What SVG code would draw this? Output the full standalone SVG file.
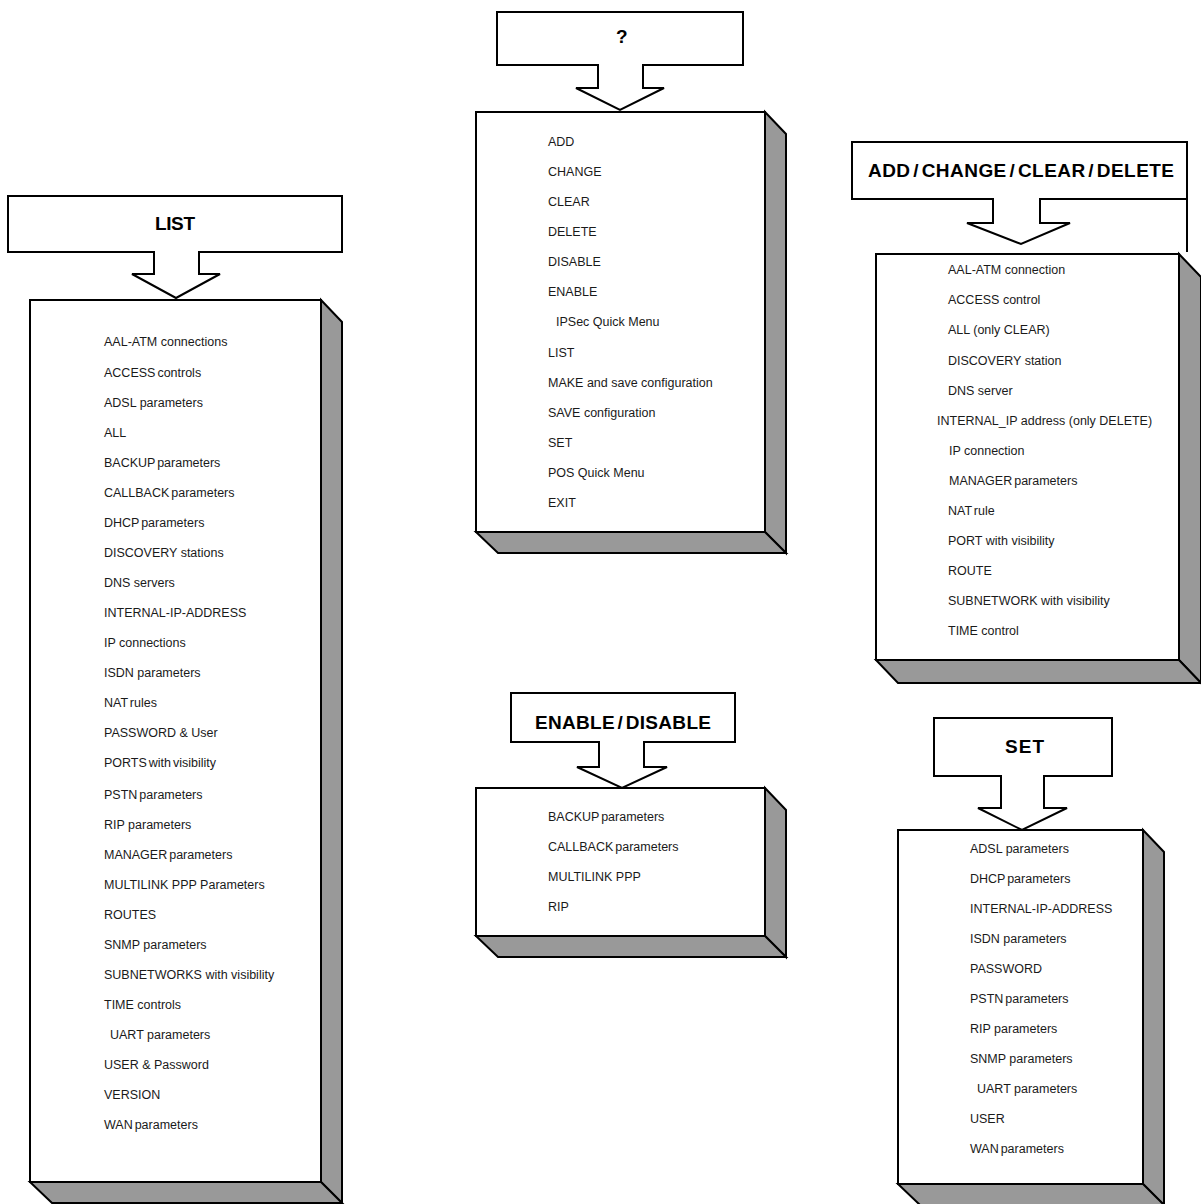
<svg xmlns="http://www.w3.org/2000/svg" width="1201" height="1204" viewBox="0 0 1201 1204">
<style>
.call{fill:#fff;stroke:#000;stroke-width:2;stroke-linejoin:miter}
.front{fill:#fff;stroke:#000;stroke-width:2}
.side{fill:#999;stroke:#000;stroke-width:2;stroke-linejoin:miter}
.h{font-family:"Liberation Sans",Arial,sans-serif;font-weight:bold;font-size:19px;fill:#000;letter-spacing:-1px;word-spacing:-3px}
.t{font-family:"Liberation Sans",Arial,sans-serif;font-size:12.5px;fill:#1a1a1a}
.n{word-spacing:-1.5px}
</style>
<rect width="1201" height="1204" fill="#fff"/>

<g id="list">
<path class="call" d="M8,196 H342 V252 H199 V274 H220 L176,298 L132,274 H154 V252 H8 Z"/>
<text class="h" x="155" y="230" textLength="39" lengthAdjust="spacing">LIST</text>
<rect class="front" x="30" y="300" width="291" height="882"/>
<polygon class="side" points="321,300 342,322 342,1203 321,1182"/>
<polygon class="side" points="30,1182 321,1182 342,1203 52,1203"/>
<text class="t" x="104" y="346">AAL-ATM connections</text>
<text class="t n" x="104" y="377">ACCESS controls</text>
<text class="t" x="104" y="407">ADSL parameters</text>
<text class="t" x="104" y="437">ALL</text>
<text class="t n" x="104" y="467">BACKUP parameters</text>
<text class="t n" x="104" y="497">CALLBACK parameters</text>
<text class="t n" x="104" y="527">DHCP parameters</text>
<text class="t" x="104" y="557">DISCOVERY stations</text>
<text class="t" x="104" y="587">DNS servers</text>
<text class="t" x="104" y="617">INTERNAL-IP-ADDRESS</text>
<text class="t" x="104" y="647">IP connections</text>
<text class="t" x="104" y="677">ISDN parameters</text>
<text class="t n" x="104" y="707">NAT rules</text>
<text class="t" x="104" y="737">PASSWORD &amp; User</text>
<text class="t n" x="104" y="767">PORTS with visibility</text>
<text class="t n" x="104" y="799">PSTN parameters</text>
<text class="t" x="104" y="829">RIP parameters</text>
<text class="t n" x="104" y="859">MANAGER parameters</text>
<text class="t" x="104" y="889">MULTILINK PPP Parameters</text>
<text class="t" x="104" y="919">ROUTES</text>
<text class="t" x="104" y="949">SNMP parameters</text>
<text class="t" x="104" y="979">SUBNETWORKS with visibility</text>
<text class="t" x="104" y="1009">TIME controls</text>
<text class="t" x="110" y="1039">UART parameters</text>
<text class="t" x="104" y="1069">USER &amp; Password</text>
<text class="t" x="104" y="1099">VERSION</text>
<text class="t n" x="104" y="1129">WAN parameters</text>
</g>

<g id="help">
<path class="call" d="M497,12 H743 V65 H643 V88 H664 L620,110 L576,88 H598 V65 H497 Z"/>
<text class="h" x="616" y="43">?</text>
<rect class="front" x="476" y="112" width="289" height="420"/>
<polygon class="side" points="765,112 786,134 786,553 765,532"/>
<polygon class="side" points="476,532 765,532 786,553 498,553"/>
<text class="t" x="548" y="146">ADD</text>
<text class="t" x="548" y="176">CHANGE</text>
<text class="t" x="548" y="206">CLEAR</text>
<text class="t" x="548" y="236">DELETE</text>
<text class="t" x="548" y="266">DISABLE</text>
<text class="t" x="548" y="296">ENABLE</text>
<text class="t" x="556" y="326">IPSec Quick Menu</text>
<text class="t" x="548" y="357">LIST</text>
<text class="t" x="548" y="387">MAKE and save configuration</text>
<text class="t" x="548" y="417">SAVE configuration</text>
<text class="t" x="548" y="447">SET</text>
<text class="t" x="548" y="477">POS Quick Menu</text>
<text class="t" x="548" y="507">EXIT</text>
</g>

<g id="addchange">
<path class="call" d="M852,142 H1187 V199 H1040 V223 H1070 L1021,244 L967,223 H993 V199 H852 Z"/>
<line x1="1187" y1="199" x2="1187" y2="252" stroke="#000" stroke-width="2"/>
<text class="h" x="868" y="177" textLength="305" lengthAdjust="spacing">ADD / CHANGE / CLEAR  / DELETE</text>
<rect class="front" x="876" y="254" width="303" height="406"/>
<polygon class="side" points="1179,254 1201,277 1201,683 1179,660"/>
<polygon class="side" points="876,660 1179,660 1201,683 898,683"/>
<text class="t" x="948" y="274">AAL-ATM connection</text>
<text class="t" x="948" y="304">ACCESS control</text>
<text class="t" x="948" y="334">ALL (only CLEAR)</text>
<text class="t" x="948" y="365">DISCOVERY station</text>
<text class="t" x="948" y="395">DNS server</text>
<text class="t" x="937" y="425">INTERNAL_IP address (only DELETE)</text>
<text class="t" x="949" y="455">IP connection</text>
<text class="t n" x="949" y="485">MANAGER parameters</text>
<text class="t n" x="948" y="515">NAT rule</text>
<text class="t" x="948" y="545">PORT with visibility</text>
<text class="t" x="948" y="575">ROUTE</text>
<text class="t" x="948" y="605">SUBNETWORK with visibility</text>
<text class="t" x="948" y="635">TIME control</text>
</g>

<g id="enable">
<path class="call" d="M511,693 H735 V742 H644 V767 H667 L622,788 L577,767 H599 V742 H511 Z"/>
<text class="h" x="535" y="729" textLength="175" lengthAdjust="spacing">ENABLE / DISABLE</text>
<rect class="front" x="476" y="788" width="289" height="148"/>
<polygon class="side" points="765,788 786,810 786,957 765,936"/>
<polygon class="side" points="476,936 765,936 786,957 498,957"/>
<text class="t n" x="548" y="821">BACKUP parameters</text>
<text class="t n" x="548" y="851">CALLBACK parameters</text>
<text class="t" x="548" y="881">MULTILINK PPP</text>
<text class="t" x="548" y="911">RIP</text>
</g>

<g id="set">
<path class="call" d="M934,718 H1112 V776 H1044 V808 H1067 L1022,830 L978,808 H1001 V776 H934 Z"/>
<text class="h" x="1005" y="753" textLength="38" lengthAdjust="spacing">SET</text>
<rect class="front" x="898" y="830" width="245" height="354"/>
<polygon class="side" points="1143,830 1164,852 1164,1205 1143,1184"/>
<polygon class="side" points="898,1184 1143,1184 1164,1205 920,1205"/>
<text class="t" x="970" y="853">ADSL parameters</text>
<text class="t n" x="970" y="883">DHCP parameters</text>
<text class="t" x="970" y="913">INTERNAL-IP-ADDRESS</text>
<text class="t" x="970" y="943">ISDN parameters</text>
<text class="t" x="970" y="973">PASSWORD</text>
<text class="t n" x="970" y="1003">PSTN parameters</text>
<text class="t" x="970" y="1033">RIP parameters</text>
<text class="t" x="970" y="1063">SNMP parameters</text>
<text class="t" x="977" y="1093">UART parameters</text>
<text class="t" x="970" y="1123">USER</text>
<text class="t n" x="970" y="1153">WAN parameters</text>
</g>

<g id="connectors"></g>
</svg>
